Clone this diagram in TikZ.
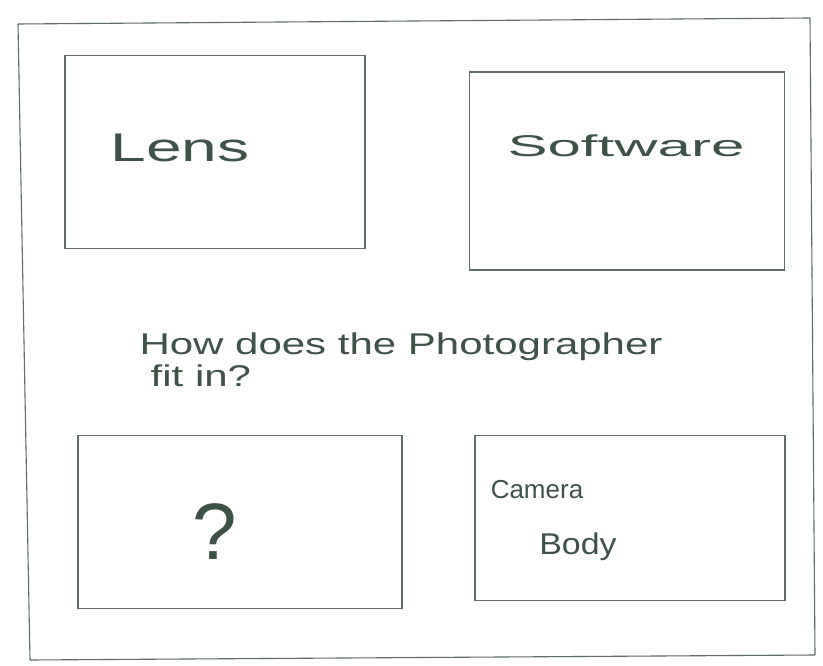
\documentclass[tikz,border=0pt]{standalone}
\usepackage{fontspec}
\setmainfont{Liberation Sans}
\definecolor{pencil}{HTML}{5E6E66}
\definecolor{ink}{HTML}{3F5248}
\begin{document}
\begin{tikzpicture}[x=1pt,y=-1pt,
  sketch/.style={draw=pencil,line width=1.1pt},
  boxlabel/.style={text=ink,font=\fontsize{40}{44}\selectfont},
  midlabel/.style={text=ink,font=\fontsize{30}{36}\selectfont,align=left}]
\useasboundingbox[fill=white] (0,0) rectangle (823,666);
% outer frame
\draw[sketch] (18,24) -- (810,18);
\draw[sketch] (18,24) -- (30,660);
\draw[sketch] (30,660) -- (815,655);
\draw[sketch] (810,18) -- (815,655);
% boxes
\node[sketch,minimum width=300,minimum height=193] (lens) at (215,152) {};
\node[sketch,minimum width=315,minimum height=198] (soft) at (627,171) {};
\node[sketch,minimum width=324,minimum height=173] (qbox) at (240,522) {};
\node[sketch,minimum width=310,minimum height=165] (body) at (630,518) {};
% labels
\node[boxlabel] (lenst) at (180,148) {\scalebox{1.6}[1]{Lens}};
\node[text=ink,font=\fontsize{30}{34}\selectfont] (softt) at (626,146) {\scalebox{2.0}[1]{Software}};
\node[text=ink,font=\fontsize{80}{90}\selectfont] (qt) at (215,532) {?};
\node[text=ink,font=\fontsize{26}{30}\selectfont] (camt) at (537,490) {Camera};
\node[text=ink,font=\fontsize{30}{34}\selectfont] (bodyt) at (578,547) {\scalebox{1.13}[1]{Body}};
\node[midlabel,anchor=north west] (howt) at (136,326) {\scalebox{1.4}[1]{\begin{tabular}{@{}l@{}}How does the Photographer\\[-4pt]\hspace{8pt}fit in?\end{tabular}}};
\end{tikzpicture}
\end{document}
